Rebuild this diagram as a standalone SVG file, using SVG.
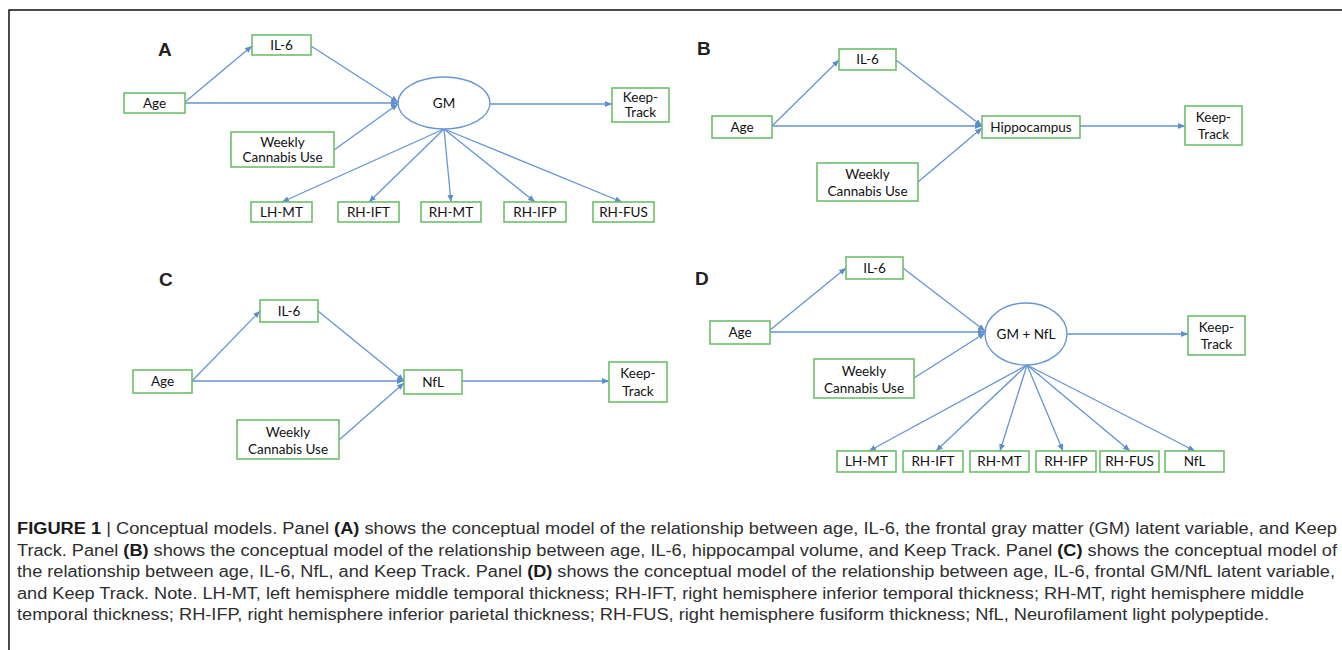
<svg xmlns="http://www.w3.org/2000/svg" width="1342" height="650" viewBox="0 0 1342 650">
<style>
.box{fill:#fff;stroke:#6cbf6a;stroke-width:1.6}
.ell{fill:#fff;stroke:#6a98d2;stroke-width:1.4}
.t{font-family:Lato,"Liberation Sans",sans-serif;font-size:13.5px;fill:#111;text-anchor:middle}
.lab{font-family:"Liberation Sans",Arial,sans-serif;font-size:19px;font-weight:bold;fill:#222}
.c line{stroke:#6595d2;stroke-width:1.3;marker-end:url(#ah)}
.cap{font-family:"Liberation Sans",Arial,sans-serif;font-size:16px;fill:#2e2e2e}
.b{font-weight:bold;fill:#1a1a1a}
</style>
<defs>
<marker id="ah" markerUnits="userSpaceOnUse" markerWidth="8" markerHeight="6" refX="7" refY="3" orient="auto">
<path d="M0,0 L7,3 L0,6 z" fill="#5b8dcf"/>
</marker>
</defs>
<rect width="1342" height="650" fill="#fff"/>
<path d="M9,650 L9,10 L1342,10" fill="none" stroke="#111" stroke-width="1.5"/>

<!-- Panel labels -->
<text class="lab" x="158" y="56">A</text>
<text class="lab" x="697" y="55">B</text>
<text class="lab" x="159" y="286">C</text>
<text class="lab" x="695" y="285">D</text>

<!-- Connectors -->
<g id="connectors" class="c">
<!-- A -->
<line x1="185" y1="102" x2="252" y2="46"/>
<line x1="311" y1="46" x2="398" y2="102"/>
<line x1="185" y1="103" x2="398" y2="103"/>
<line x1="334" y1="150" x2="398" y2="104"/>
<line x1="490" y1="104" x2="612" y2="104"/>
<line x1="444" y1="129" x2="282" y2="202"/>
<line x1="444" y1="129" x2="369" y2="202"/>
<line x1="444" y1="129" x2="451" y2="202"/>
<line x1="444" y1="129" x2="535" y2="202"/>
<line x1="444" y1="129" x2="622" y2="202"/>
<!-- B -->
<line x1="772" y1="126" x2="839" y2="60"/>
<line x1="896" y1="60" x2="982" y2="126"/>
<line x1="772" y1="126" x2="982" y2="126"/>
<line x1="918" y1="182" x2="982" y2="128"/>
<line x1="1080" y1="126" x2="1185" y2="126"/>
<!-- C -->
<line x1="192" y1="381" x2="260" y2="311"/>
<line x1="318" y1="311" x2="404" y2="381"/>
<line x1="192" y1="381" x2="404" y2="381"/>
<line x1="339" y1="440" x2="404" y2="383"/>
<line x1="462" y1="381" x2="609" y2="381"/>
<!-- D -->
<line x1="770" y1="330" x2="846" y2="268"/>
<line x1="903" y1="268" x2="985" y2="331"/>
<line x1="770" y1="332" x2="985" y2="332"/>
<line x1="914" y1="378" x2="985" y2="333"/>
<line x1="1067" y1="334" x2="1188" y2="334"/>
<line x1="1027" y1="365" x2="869" y2="451"/>
<line x1="1027" y1="365" x2="936" y2="451"/>
<line x1="1027" y1="365" x2="1000" y2="451"/>
<line x1="1027" y1="365" x2="1063" y2="451"/>
<line x1="1027" y1="365" x2="1130" y2="451"/>
<line x1="1027" y1="365" x2="1195" y2="451"/>
</g>

<!-- Panel A nodes -->
<g id="A-il6"><rect class="box" x="252" y="35" width="59" height="20"/><text class="t" x="281.5" y="50">IL-6</text></g>
<g id="A-age"><rect class="box" x="124" y="93" width="61" height="20"/><text class="t" x="154.5" y="108">Age</text></g>
<g id="A-gm"><ellipse class="ell" cx="444" cy="103" rx="46" ry="26"/><text class="t" x="444" y="108">GM</text></g>
<g id="A-keep"><rect class="box" x="612" y="88" width="57" height="34"/><text class="t" x="640.5" y="102">Keep-</text><text class="t" x="640.5" y="117">Track</text></g>
<g id="A-weekly"><rect class="box" x="231" y="132" width="103" height="35"/><text class="t" x="282.5" y="147">Weekly</text><text class="t" x="282.5" y="162">Cannabis Use</text></g>
<g id="A-lhmt"><rect class="box" x="251" y="202" width="61" height="20"/><text class="t" x="281.5" y="217">LH-MT</text></g>
<g id="A-rhift"><rect class="box" x="338" y="202" width="61" height="20"/><text class="t" x="368.5" y="217">RH-IFT</text></g>
<g id="A-rhmt"><rect class="box" x="421" y="202" width="60" height="20"/><text class="t" x="451" y="217">RH-MT</text></g>
<g id="A-rhifp"><rect class="box" x="504" y="202" width="62" height="20"/><text class="t" x="535" y="217">RH-IFP</text></g>
<g id="A-rhfus"><rect class="box" x="593" y="202" width="61" height="20"/><text class="t" x="623.5" y="217">RH-FUS</text></g>

<!-- Panel B nodes -->
<g id="B-il6"><rect class="box" x="839" y="49" width="57" height="21"/><text class="t" x="867.5" y="64">IL-6</text></g>
<g id="B-age"><rect class="box" x="712" y="116" width="60" height="22"/><text class="t" x="742" y="132">Age</text></g>
<g id="B-hippo"><rect class="box" x="982" y="116" width="98" height="22"/><text class="t" x="1031" y="132">Hippocampus</text></g>
<g id="B-keep"><rect class="box" x="1185" y="106" width="57" height="39"/><text class="t" x="1213.5" y="122">Keep-</text><text class="t" x="1213.5" y="139">Track</text></g>
<g id="B-weekly"><rect class="box" x="817" y="163" width="101" height="38"/><text class="t" x="867.5" y="179">Weekly</text><text class="t" x="867.5" y="196">Cannabis Use</text></g>

<!-- Panel C nodes -->
<g id="C-il6"><rect class="box" x="260" y="300" width="58" height="22"/><text class="t" x="289" y="316">IL-6</text></g>
<g id="C-age"><rect class="box" x="133" y="370" width="59" height="23"/><text class="t" x="162.5" y="386">Age</text></g>
<g id="C-nfl"><rect class="box" x="404" y="370" width="58" height="24"/><text class="t" x="433" y="387">NfL</text></g>
<g id="C-keep"><rect class="box" x="609" y="362" width="58" height="40"/><text class="t" x="638" y="378">Keep-</text><text class="t" x="638" y="396">Track</text></g>
<g id="C-weekly"><rect class="box" x="237" y="420" width="102" height="39"/><text class="t" x="288" y="437">Weekly</text><text class="t" x="288" y="454">Cannabis Use</text></g>

<!-- Panel D nodes -->
<g id="D-il6"><rect class="box" x="846" y="257" width="57" height="22"/><text class="t" x="874.5" y="273">IL-6</text></g>
<g id="D-age"><rect class="box" x="710" y="321" width="60" height="23"/><text class="t" x="740" y="337">Age</text></g>
<g id="D-gmnfl"><ellipse class="ell" cx="1026" cy="334" rx="41" ry="31"/><text class="t" x="1026" y="339">GM + NfL</text></g>
<g id="D-keep"><rect class="box" x="1188" y="316" width="57" height="39"/><text class="t" x="1216.5" y="332">Keep-</text><text class="t" x="1216.5" y="349">Track</text></g>
<g id="D-weekly"><rect class="box" x="814" y="359" width="100" height="39"/><text class="t" x="864" y="376">Weekly</text><text class="t" x="864" y="393">Cannabis Use</text></g>
<g id="D-lhmt"><rect class="box" x="837" y="451" width="59" height="21"/><text class="t" x="866.5" y="466">LH-MT</text></g>
<g id="D-rhift"><rect class="box" x="903" y="451" width="60" height="21"/><text class="t" x="933" y="466">RH-IFT</text></g>
<g id="D-rhmt"><rect class="box" x="970" y="451" width="59" height="21"/><text class="t" x="999.5" y="466">RH-MT</text></g>
<g id="D-rhifp"><rect class="box" x="1036" y="451" width="60" height="21"/><text class="t" x="1066" y="466">RH-IFP</text></g>
<g id="D-rhfus"><rect class="box" x="1100" y="451" width="59" height="21"/><text class="t" x="1129.5" y="466">RH-FUS</text></g>
<g id="D-nfl"><rect class="box" x="1165" y="451" width="59" height="21"/><text class="t" x="1194.5" y="466">NfL</text></g>

<!-- Caption -->
<g id="caption" class="cap">
<text x="17" y="534" textLength="1320" lengthAdjust="spacingAndGlyphs"><tspan class="b">FIGURE 1</tspan> | Conceptual models. Panel <tspan class="b">(A)</tspan> shows the conceptual model of the relationship between age, IL-6, the frontal gray matter (GM) latent variable, and Keep</text>
<text x="17" y="556" textLength="1320" lengthAdjust="spacingAndGlyphs">Track. Panel <tspan class="b">(B)</tspan> shows the conceptual model of the relationship between age, IL-6, hippocampal volume, and Keep Track. Panel <tspan class="b">(C)</tspan> shows the conceptual model of</text>
<text x="17" y="577" textLength="1318" lengthAdjust="spacingAndGlyphs">the relationship between age, IL-6, NfL, and Keep Track. Panel <tspan class="b">(D)</tspan> shows the conceptual model of the relationship between age, IL-6, frontal GM/NfL latent variable,</text>
<text x="17" y="599" textLength="1287" lengthAdjust="spacingAndGlyphs">and Keep Track. Note. LH-MT, left hemisphere middle temporal thickness; RH-IFT, right hemisphere inferior temporal thickness; RH-MT, right hemisphere middle</text>
<text x="17" y="620" textLength="1252" lengthAdjust="spacingAndGlyphs">temporal thickness; RH-IFP, right hemisphere inferior parietal thickness; RH-FUS, right hemisphere fusiform thickness; NfL, Neurofilament light polypeptide.</text>
</g>
</svg>
